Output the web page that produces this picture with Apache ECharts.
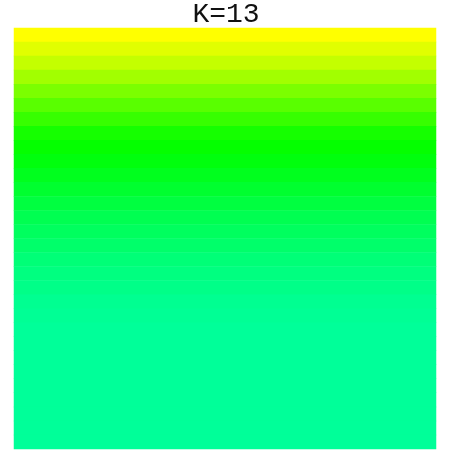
<!DOCTYPE html>
<html>
<head>
<meta charset="utf-8">
<script src="https://cdn.jsdelivr.net/npm/echarts@6/dist/echarts.min.js"></script>
<style>html,body{margin:0;padding:0;background:#fff}#c{width:452px;height:452px}</style>
</head>
<body>
<div id="c"></div>
<script>
const titleText = "K=13";
const xCategories = ["0"];
const yCategories = Array.from({length: 30}, (_, i) => String(i));
// hue-like value per row (top to bottom)
const rowValues = [60, 67, 74, 82, 91, 99, 107, 115, 119, 123, 127, 131, 135, 139, 142, 145, 148, 150, 152, 154, 155, 156, 156, 156, 156, 156, 156, 156, 156, 156];

const data = [];
rowValues.forEach((v, r) => { data.push([0, r, v]); });

const chart = echarts.init(document.getElementById('c'), null, {renderer: 'canvas'});
chart.setOption({
  animation: false,
  backgroundColor: '#fff',
  title: {
    text: titleText, left: 'center', top: -4,
    textStyle: {fontFamily: '"Courier New", Courier, "Liberation Mono", monospace', fontWeight: 'normal', fontSize: 28, color: '#111'}
  },
  grid: {left: 14, right: 16, top: 28, bottom: 3},
  xAxis: {type: 'category', data: xCategories, show: false},
  yAxis: {type: 'category', data: yCategories, inverse: true, show: false},
  visualMap: {
    show: false, min: 60, max: 180, dimension: 2,
    inRange: {color: ['#ffff00', '#00ff00', '#00ffff']}
  },
  series: [{type: 'heatmap', data: data, itemStyle: {borderWidth: 0}}]
});
</script>
</body>
</html>
